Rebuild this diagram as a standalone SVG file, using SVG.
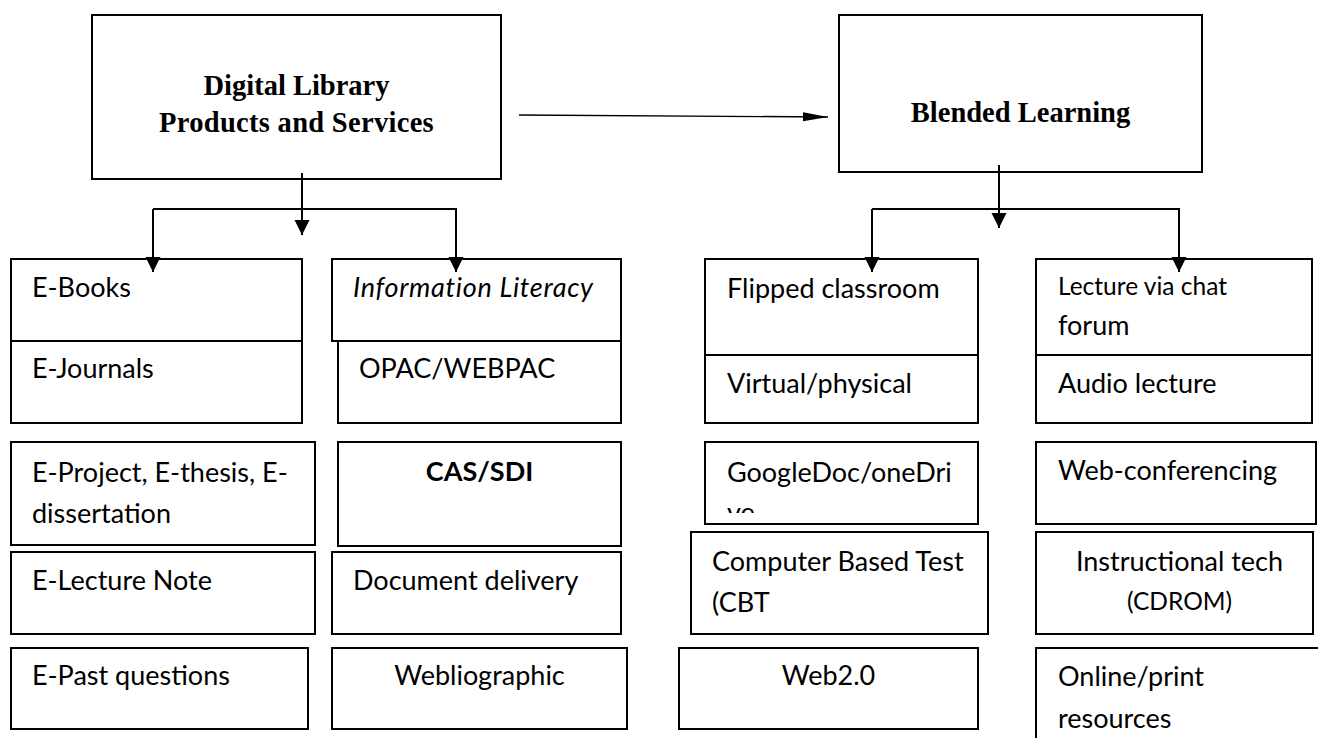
<svg xmlns="http://www.w3.org/2000/svg" width="1318" height="738" viewBox="0 0 1318 738">
<style>
.box{fill:#fff;stroke:#000;stroke-width:2}
.div{stroke:#000;stroke-width:2;fill:none}
.t{font-family:Lato,"Liberation Sans",sans-serif;font-size:27px;fill:#000}
.ti{font-family:Lato,"Liberation Sans",sans-serif;font-size:27px;font-style:italic;fill:#000;letter-spacing:0.7px}
.tb{font-family:Lato,"Liberation Sans",sans-serif;font-size:27px;font-weight:bold;fill:#000}
.ts{font-family:Lato,"Liberation Sans",sans-serif;font-size:24.5px;fill:#000}
.h{font-family:"Liberation Serif","Times New Roman",serif;font-size:28.5px;font-weight:bold;fill:#000}
.c{fill:none;stroke:#000;stroke-width:2}
.thin{fill:none;stroke:#000;stroke-width:1.4}
</style>
<defs>
<marker id="ad" markerUnits="userSpaceOnUse" markerWidth="16" markerHeight="16" refX="15" refY="7.5" orient="auto" viewBox="0 0 16 16">
<path d="M0,0 L15,7.5 L0,15 Z" fill="#000"/>
</marker>
<marker id="ah" markerUnits="userSpaceOnUse" markerWidth="26" markerHeight="10" refX="25" refY="4.5" orient="auto" viewBox="0 0 26 10">
<path d="M0,0 L25,4.5 L0,9 Z" fill="#000"/>
</marker>
<clipPath id="gclip"><rect x="705" y="442" width="273" height="71"/></clipPath>
</defs>

<g id="digital-library">
<rect class="box" x="92" y="15" width="409" height="164"/>
<text class="h" x="296.5" y="95" text-anchor="middle">Digital Library</text>
<text class="h" x="296.5" y="132" text-anchor="middle" letter-spacing="0.3">Products and Services</text>
</g>

<g id="blended-learning">
<rect class="box" x="839" y="15" width="363" height="157"/>
<text class="h" x="1020.5" y="122" text-anchor="middle">Blended Learning</text>
</g>

<g id="ebooks-ejournals">
<rect class="box" x="11" y="259" width="291" height="164"/>
<line class="div" x1="11" y1="341" x2="302" y2="341"/>
<text class="t" x="32" y="297">E-Books</text>
<text class="t" x="32" y="378">E-Journals</text>
</g>

<g id="eproject">
<rect class="box" x="11" y="442" width="304" height="103"/>
<text class="t" x="32" y="482">E-Project, E-thesis, E-</text>
<text class="t" x="32" y="523">dissertation</text>
</g>

<g id="electure">
<rect class="box" x="11" y="552" width="304" height="82"/>
<text class="t" x="32" y="590">E-Lecture Note</text>
</g>

<g id="epast">
<rect class="box" x="11" y="648" width="297" height="81"/>
<text class="t" x="32" y="685">E-Past questions</text>
</g>

<g id="opac">
<rect class="box" x="338" y="341" width="283" height="82"/>
<text class="t" x="359" y="378">OPAC/WEBPAC</text>
</g>

<g id="info-literacy">
<rect class="box" x="332" y="259" width="289" height="82"/>
<text class="ti" x="353" y="297">Information Literacy</text>
</g>

<g id="cas-sdi">
<rect class="box" x="338" y="442" width="283" height="104"/>
<text class="tb" x="479.5" y="481" text-anchor="middle">CAS/SDI</text>
</g>

<g id="document-delivery">
<rect class="box" x="332" y="552" width="289" height="82"/>
<text class="t" x="353" y="590">Document delivery</text>
</g>

<g id="webliographic">
<rect class="box" x="332" y="648" width="295" height="81"/>
<text class="t" x="479.5" y="685" text-anchor="middle">Webliographic</text>
</g>

<g id="flipped-virtual">
<rect class="box" x="705" y="259" width="273" height="164"/>
<line class="div" x1="705" y1="355" x2="978" y2="355"/>
<text class="t" x="727" y="298">Flipped classroom</text>
<text class="t" x="727" y="393">Virtual/physical</text>
</g>

<g id="googledoc">
<rect class="box" x="705" y="442" width="273" height="82"/>
<g clip-path="url(#gclip)">
<text class="t" x="727" y="482">GoogleDoc/oneDri</text>
<text class="t" x="727" y="522">ve</text>
</g>
</g>

<g id="cbt">
<rect class="box" x="691" y="532" width="297" height="102"/>
<text class="t" x="712" y="571">Computer Based Test</text>
<text class="t" x="712" y="612">(CBT</text>
</g>

<g id="web20">
<rect class="box" x="679" y="648" width="299" height="81"/>
<text class="t" x="828.5" y="685" text-anchor="middle">Web2.0</text>
</g>

<g id="lecture-audio">
<rect class="box" x="1036" y="259" width="276" height="164"/>
<line class="div" x1="1036" y1="355" x2="1312" y2="355"/>
<text class="ts" x="1058" y="295">Lecture via chat</text>
<text class="t" x="1058" y="335">forum</text>
<text class="t" x="1058" y="393">Audio lecture</text>
</g>

<g id="web-conferencing">
<rect class="box" x="1036" y="442" width="280" height="82"/>
<text class="t" x="1058" y="480">Web-conferencing</text>
</g>

<g id="instructional-tech">
<rect class="box" x="1036" y="532" width="277" height="102"/>
<text class="t" x="1179.5" y="571" text-anchor="middle">Instructional tech</text>
<text class="ts" x="1179.5" y="610" text-anchor="middle">(CDROM)</text>
</g>

<g id="online-print">
<rect class="box" x="1036" y="648" width="300" height="120"/>
<text class="t" x="1058" y="686">Online/print</text>
<text class="t" x="1058" y="728">resources</text>
</g>

<g id="connectors">
<line class="thin" x1="519" y1="115" x2="828" y2="117" marker-end="url(#ah)"/>
<line class="c" x1="302" y1="173" x2="302" y2="235" marker-end="url(#ad)"/>
<polyline class="c" points="153,209 456,209 456,272" marker-end="url(#ad)"/>
<line class="c" x1="153" y1="209" x2="153" y2="272" marker-end="url(#ad)"/>
<line class="c" x1="999" y1="165" x2="999" y2="228" marker-end="url(#ad)"/>
<polyline class="c" points="872,209 1179,209 1179,272" marker-end="url(#ad)"/>
<line class="c" x1="872" y1="209" x2="872" y2="272" marker-end="url(#ad)"/>
</g>
</svg>
